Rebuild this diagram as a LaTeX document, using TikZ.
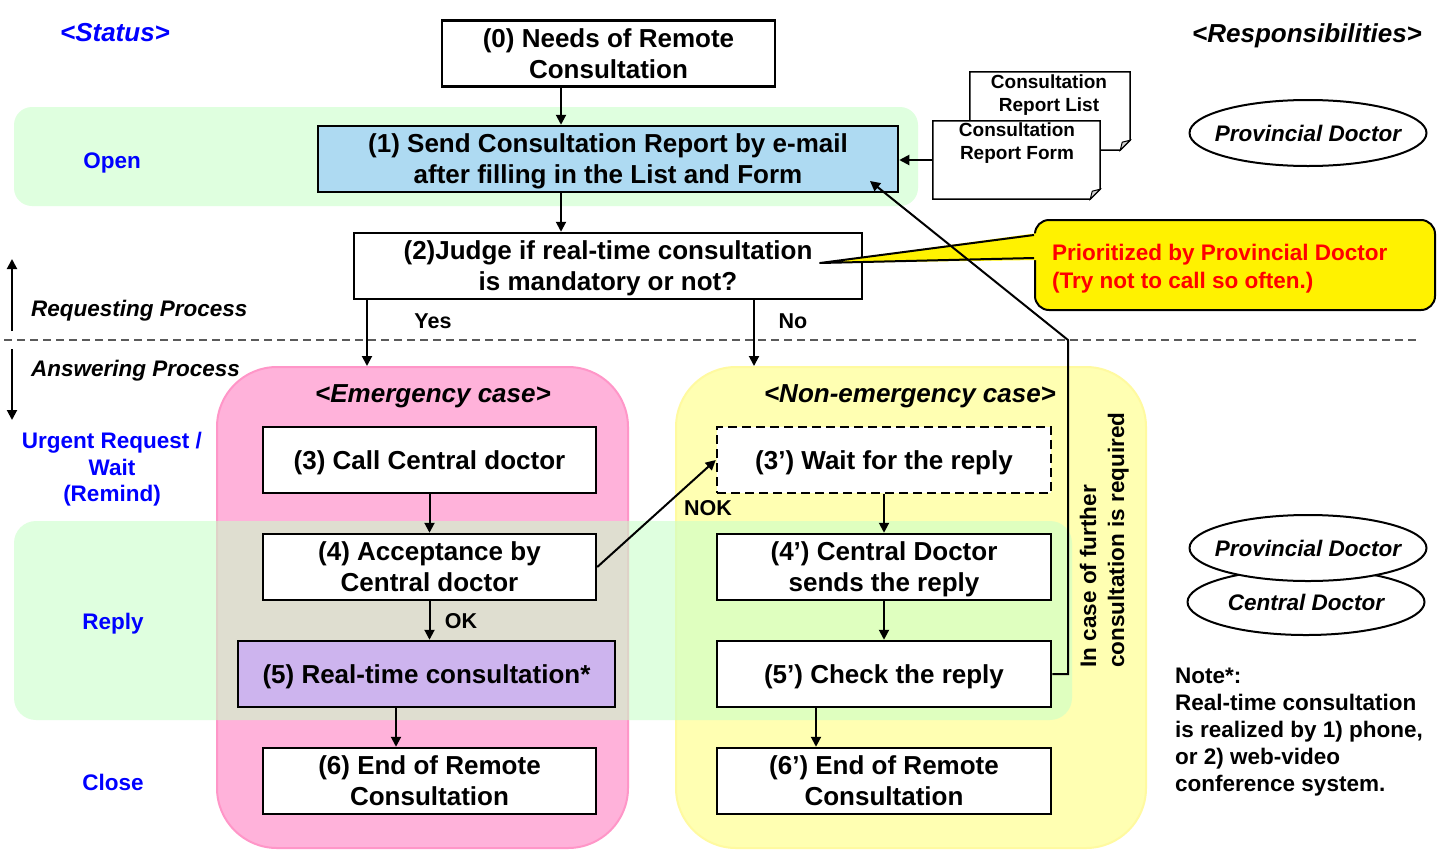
\documentclass[tikz,border=0pt]{standalone}
\usepackage{fontspec}
\setmainfont{Liberation Sans}
\usetikzlibrary{arrows.meta,calc,shapes.geometric}
\definecolor{pinkfill}{RGB}{255,178,218}
\definecolor{pinkline}{RGB}{255,150,200}
\definecolor{yelfill}{RGB}{255,255,178}
\definecolor{yelline}{RGB}{255,250,160}
\definecolor{greenband}{RGB}{201,255,201}
\definecolor{bluebox}{RGB}{174,218,242}
\definecolor{purplebox}{RGB}{205,180,238}
\definecolor{statblue}{RGB}{0,0,255}
\definecolor{dashgray}{RGB}{90,90,90}
\begin{document}
\begin{tikzpicture}[x=1pt,y=-1pt,
  every node/.append style={text depth=0pt},
  box/.style={draw, line width=2.5pt, fill=white, minimum width=333pt, minimum height=66pt,
    inner sep=0pt, align=center, font=\fontsize{26}{31}\selectfont\bfseries},
  arr/.style={line width=2pt, -{Triangle[length=10pt,width=10pt]}},
  band/.style={fill=greenband, fill opacity=0.58, draw=none, inner sep=0pt},
  region/.style={line width=2pt, inner sep=0pt, rounded corners=60pt},
  lab/.style={font=\fontsize{22.5}{26.5}\selectfont\bfseries, align=center, inner sep=0pt},
  blab/.style={lab, text=statblue},
  ilab/.style={font=\fontsize{22.5}{26.5}\selectfont\bfseries\itshape, align=center, inner sep=0pt},
  head/.style={font=\fontsize{26}{30}\selectfont\bfseries\itshape, align=center, inner sep=0pt},
  small/.style={font=\fontsize{21.5}{26}\selectfont\bfseries, inner sep=0pt},
  role/.style={ellipse, draw, line width=2pt, fill=white, minimum width=237pt, minimum height=66pt,
    inner sep=0pt},
  roletext/.style={inner sep=0pt, font=\fontsize{22.5}{26.5}\selectfont\bfseries\itshape},
  docbox/.style={minimum width=#1, minimum height=78pt, inner sep=0pt},
  docline/.style={draw, line width=1.5pt, fill=white},
  doctext/.style={font=\fontsize{19}{23}\selectfont\bfseries, align=center, inner sep=0pt}
]
\useasboundingbox (0,0) rectangle (1455,854);
\fill[white] (0,0) rectangle (1455,854);

% regions
\node[region, fill=pinkfill, draw=pinkline, minimum width=411pt, minimum height=481pt] (emg) at (422.5,607.5) {};
\node[region, fill=yelfill, draw=yelline, minimum width=470pt, minimum height=481pt] (nemg) at (911,607.5) {};

% green bands
\node[band, rounded corners=18pt, minimum width=904pt, minimum height=99pt] (openband) at (466,156.5) {};
\node[band, rounded corners=22pt, minimum width=1058pt, minimum height=199pt] (replyband) at (543,620.5) {};

% headers
\node[head, text=statblue] (status) at (115,32) {<Status>};
\node[head] (resp) at (1307,33) {<Responsibilities>};

% status labels
\node[blab] (open) at (112,161) {Open};
\node[blab] (urgent) at (112,467) {Urgent Request /\\Wait\\(Remind)};
\node[blab] (reply) at (113,621) {Reply};
\node[blab] (close) at (113,782) {Close};

% process labels
\node[ilab, anchor=west] (reqp) at (31,308) {Requesting Process};
\node[ilab, anchor=west] (ansp) at (31,368) {Answering Process};
\coordinate (upS) at (12,331);
\coordinate (upE) at (12,259);
\coordinate (dnS) at (12,349);
\coordinate (dnE) at (12,420);
\draw[arr] (upS) -- (upE);
\draw[arr] (dnS) -- (dnE);
\coordinate (dashL) at (4,340);
\coordinate (dashR) at (1416,340);
\draw[dashgray, line width=1.5pt, dash pattern=on 8pt off 5pt] (dashL) -- (dashR);

% top boxes
\node[box] (box0) at (608.5,53.5) {(0) Needs of Remote\\Consultation};
\node[box, fill=bluebox, minimum width=580pt] (box1) at (608,159) {(1) Send Consultation Report by e-mail\\after filling in the List and Form};
\node[box, minimum width=508pt] (box2) at (608,266) {(2)Judge if real-time consultation\\is mandatory or not?};
\coordinate (ax) at (561,0);
\draw[arr] (ax |- box0.south) -- (ax |- box1.north);
\draw[arr] (ax |- box1.south) -- (ax |- box2.north);

% documents
\node[docbox=160pt] (doclist) at (1050,111) {};
\draw[docline] (doclist.north west) -- (doclist.north east) -- ($(doclist.south east)+(0,-10)$)
  -- ($(doclist.south east)+(-10,0)$) -- (doclist.south west) -- cycle;
\draw[line width=1pt, fill=gray!35] ($(doclist.south east)+(0,-10)$) -- ($(doclist.south east)+(-10,0)$) -- ($(doclist.south east)+(-8,-8)$) -- cycle;
\node[doctext] (doclisttxt) at (1049,93.5) {Consultation\\Report List};
\node[docbox=167pt] (docform) at (1016.5,160) {};
\draw[docline] (docform.north west) -- (docform.north east) -- ($(docform.south east)+(0,-10)$)
  -- ($(docform.south east)+(-10,0)$) -- (docform.south west) -- cycle;
\draw[line width=1pt, fill=gray!35] ($(docform.south east)+(0,-10)$) -- ($(docform.south east)+(-10,0)$) -- ($(docform.south east)+(-8,-8)$) -- cycle;
\node[doctext] (docformtxt) at (1017,141.5) {Consultation\\Report Form};
\draw[arr] (docform.west) -- (docform.west -| box1.east);

% responsibilities
\node[role] (prov1) at (1308,133) {};
\node[roletext] (prov1txt) at (prov1) {Provincial Doctor};
\node[role] (central) at (1306,602) {};
\node[roletext] (centraltxt) at (central) {Central Doctor};
\node[role] (prov2) at (1308,548) {};
\node[roletext] (prov2txt) at (prov2) {Provincial Doctor};
\node[font=\fontsize{22.5}{27}\selectfont\bfseries, align=left, anchor=west, inner sep=0pt] (note) at (1175,730)
  {Note*:\\Real-time consultation\\is realized by 1) phone,\\or 2) web-video\\conference system.};

% callout
\node[draw, line width=2pt, fill=yellow, rounded corners=14pt, minimum height=90pt, minimum width=400pt,
  inner sep=0pt] (callout) at (1235,265) {};
\node[anchor=west, align=left, inner sep=0pt, text=red, font=\fontsize{22.5}{28}\selectfont\bfseries] (callouttxt) at (1052,266)
  {Prioritized by Provincial Doctor\\(Try not to call so often.)};
\coordinate (calltip) at (820,263);
\fill[yellow] ($(callout.west)+(4,-32)$) -- (calltip) -- ($(callout.west)+(4,-5)$) -- cycle;
\draw[line width=2pt, line join=round] ($(callout.west)+(0,-30)$) -- (calltip) -- ($(callout.west)+(0,-7)$);

% yes / no
\coordinate (yesx) at (367,0);
\coordinate (nox) at (754,0);
\draw[arr] (yesx |- box2.south) -- (yesx |- emg.north);
\draw[arr] (nox |- box2.south) -- (nox |- nemg.north);
\node[small] (yes) at (433,321) {Yes};
\node[small] (no) at (793,321) {No};

% case headers
\node[head] (emgt) at (433,394) {<Emergency case>};
\node[head] (nemgt) at (910,394) {<Non-emergency case>};

% emergency boxes
\node[box] (box3) at (429.5,460) {(3) Call Central doctor};
\node[box] (box4) at (429.5,567) {(4) Acceptance by\\Central doctor};
\node[box, fill=purplebox, minimum width=377pt] (box5) at (426.5,674) {(5) Real-time consultation*};
\node[box] (box6) at (429.5,781) {(6) End of Remote\\Consultation};
\draw[arr] (box3.south) -- (box4.north);
\draw[arr] (box4.south) -- (box4.south |- box5.north);
\node[small] (ok) at (461,621) {OK};
\coordinate (c56) at (396,0);
\draw[arr] (c56 |- box5.south) -- (c56 |- box6.north);

% non-emergency boxes
\node[box, dash pattern=on 9pt off 5pt, minimum width=334pt] (box3p) at (884,460) {(3’) Wait for the reply};
\node[box, minimum width=334pt] (box4p) at (884,567) {(4’) Central Doctor\\sends the reply};
\node[box, minimum width=334pt] (box5p) at (884,674) {(5’) Check the reply};
\node[box, minimum width=334pt] (box6p) at (884,781) {(6’) End of Remote\\Consultation};
\draw[arr] (box3p.south) -- (box4p.north);
\draw[arr] (box4p.south) -- (box5p.north);
\coordinate (c56p) at (816,0);
\draw[arr] (c56p |- box5p.south) -- (c56p |- box6p.north);
\draw[arr] (box4.east) -- (box3p.west);
\node[small] (nok) at (708,508) {NOK};

% feedback
\coordinate (fbturn) at (1068,340);
\coordinate (fbend) at (870,181);
\draw[arr, line join=miter] (box5p.east) -| (fbturn) -- (fbend);
\node[rotate=90, font=\fontsize{22.5}{28}\selectfont\bfseries, align=left, inner sep=0pt] (further) at (1102,540)
  {In case of further\\consultation is required};
\end{tikzpicture}
\end{document}
